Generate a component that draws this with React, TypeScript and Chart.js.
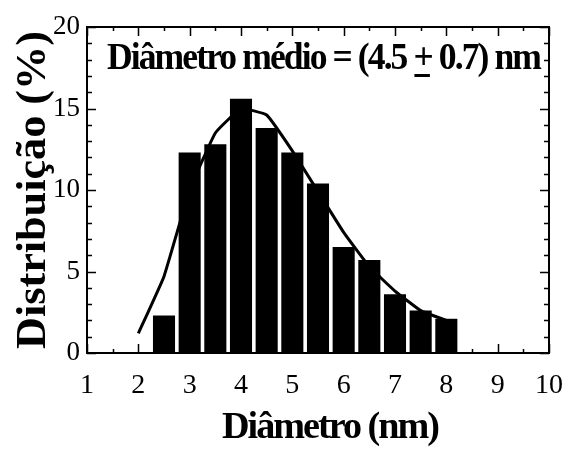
import React, { useEffect, useRef } from "react";
import { Chart, registerables } from "chart.js";

Chart.register(...registerables);

const barX = [2.5, 3.0, 3.5, 4.0, 4.5, 5.0, 5.5, 6.0, 6.5, 7.0, 7.5, 8.0];
const barY = [2.3, 12.3, 12.8, 15.6, 13.8, 12.3, 10.4, 6.5, 5.7, 3.6, 2.6, 2.1];
const fitX = [2.0, 2.5, 3.0, 3.5, 4.0, 4.5, 5.0, 5.5, 6.0, 6.5, 7.0, 7.5, 8.0];
const fitY = [1.2, 4.7, 10.0, 13.5, 15.0, 14.6, 12.4, 9.9, 7.4, 5.3, 3.8, 2.6, 2.0];
const xMin = 1;
const xMax = 10;
const yMin = 0;
const yMax = 20;
const annotationParts = ["Diâmetro médio = (4.5 ", "+", " 0.7) nm"];
const xTitle = "Diâmetro (nm)";
const yTitle = "Distribuição (%)";

const SERIF = '"Liberation Serif", "Times New Roman", serif';

function fitText(
  ctx: CanvasRenderingContext2D,
  text: string,
  cx: number,
  baseline: number,
  targetW: number
) {
  const w = ctx.measureText(text).width;
  const s = targetW / w;
  ctx.save();
  ctx.translate(cx, baseline);
  ctx.scale(s, 1);
  ctx.textAlign = "center";
  ctx.textBaseline = "alphabetic";
  ctx.fillText(text, 0, 0);
  ctx.restore();
}

const overlay = {
  id: "overlay",
  afterDraw(chart: any) {
    const { ctx, chartArea: a, scales } = chart;
    const x = scales.x;
    const y = scales.y;
    ctx.save();
    ctx.strokeStyle = "#000";
    ctx.fillStyle = "#000";
    ctx.lineWidth = 1.5;
    ctx.beginPath();
    for (let v = xMin; v <= xMax + 1e-9; v += 0.5) {
      const px = Math.round(x.getPixelForValue(v)) + 0.5;
      const major = Math.abs(v - Math.round(v)) < 1e-6;
      const len = major ? 9 : 4;
      ctx.moveTo(px, a.bottom);
      ctx.lineTo(px, a.bottom - len);
      ctx.moveTo(px, a.top);
      ctx.lineTo(px, a.top + len);
    }
    for (let v = yMin; v <= yMax + 1e-9; v += 1) {
      const py = Math.round(y.getPixelForValue(v)) + 0.5;
      const major = v % 5 === 0;
      const len = major ? 9 : 5;
      ctx.moveTo(a.left, py);
      ctx.lineTo(a.left + len, py);
      ctx.moveTo(a.right, py);
      ctx.lineTo(a.right - len, py);
    }
    ctx.stroke();
    ctx.lineWidth = 2;
    ctx.strokeRect(a.left, a.top, a.right - a.left, a.bottom - a.top);

    // annotation
    ctx.font = `bold 37px ${SERIF}`;
    (ctx as any).letterSpacing = "-2px";
    ctx.textBaseline = "alphabetic";
    ctx.textAlign = "left";
    const w1 = ctx.measureText(annotationParts[0]).width;
    const wp = ctx.measureText(annotationParts[1]).width;
    const w2 = ctx.measureText(annotationParts[2]).width;
    const s = 433 / (w1 + wp + w2);
    ctx.save();
    ctx.translate(107, 69);
    ctx.scale(s, 1);
    ctx.fillText(annotationParts[0], 0, 0);
    ctx.fillText(annotationParts[1], w1, 0);
    ctx.fillRect(w1 + 1, 5, wp - 3, 3);
    ctx.fillText(annotationParts[2], w1 + wp, 0);
    ctx.restore();

    // axis titles
    ctx.font = `bold 38px ${SERIF}`;
    (ctx as any).letterSpacing = "-2px";
    fitText(ctx, xTitle, 330, 438, 216);
    ctx.save();
    ctx.translate(45, 190);
    ctx.rotate(-Math.PI / 2);
    ctx.font = `bold 43px ${SERIF}`;
    (ctx as any).letterSpacing = "0px";
    fitText(ctx, yTitle, 0, 0, 318);
    ctx.restore();
    ctx.restore();
  },
};

export default function App() {
  const ref = useRef<HTMLCanvasElement | null>(null);
  useEffect(() => {
    document.body.style.margin = "0";
    const canvas = ref.current;
    if (!canvas) return;
    const chart = new Chart(canvas, {
      type: "bar",
      data: {
        datasets: [
          {
            type: "bar",
            data: barX.map((v, i) => ({ x: v, y: barY[i] })),
            backgroundColor: "#000",
            borderWidth: 0,
            barPercentage: 0.86,
            categoryPercentage: 1,
            order: 1,
          },
          {
            type: "line",
            data: fitX.map((v, i) => ({ x: v, y: fitY[i] })),
            borderColor: "#000",
            borderWidth: 3,
            pointRadius: 0,
            tension: 0.1,
            fill: false,
            order: 2,
          } as any,
        ],
      },
      options: {
        responsive: false,
        animation: false,
        devicePixelRatio: 1,
        layout: { padding: { left: 0, top: 27, right: 22, bottom: 0 } },
        plugins: {
          legend: { display: false },
          tooltip: { enabled: false },
        },
        scales: {
          x: {
            type: "linear",
            min: xMin,
            max: xMax,
            offset: false,
            grid: { display: false, drawTicks: false },
            border: { display: false },
            ticks: {
              stepSize: 1,
              padding: 16,
              color: "#000",
              font: { family: SERIF, size: 28 },
              maxRotation: 0,
              autoSkip: false,
            },
            afterFit: (scale: any) => {
              scale.height = 98;
              scale.paddingLeft = 0;
              scale.paddingRight = 0;
            },
          },
          y: {
            type: "linear",
            min: yMin,
            max: yMax,
            grid: { display: false, drawTicks: false },
            border: { display: false },
            ticks: {
              stepSize: 5,
              padding: 7,
              color: "#000",
              font: { family: SERIF, size: 27 },
            },
            afterFit: (scale: any) => {
              scale.width = 87;
              scale.paddingTop = 0;
              scale.paddingBottom = 0;
            },
          },
        },
      },
      plugins: [overlay],
    });
    return () => chart.destroy();
  }, []);
  return <canvas ref={ref} width={571} height={451} style={{ display: "block" }} />;
}
